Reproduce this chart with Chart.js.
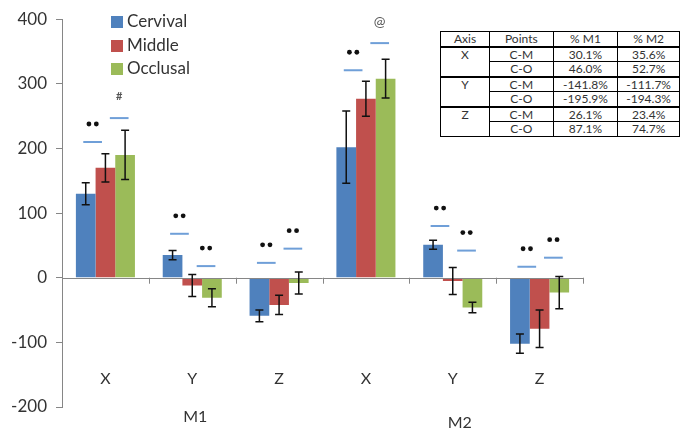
<!DOCTYPE html>
<html>
<head>
<meta charset="utf-8">
<script src="https://cdn.jsdelivr.net/npm/chart.js@4.4.1/dist/chart.umd.min.js"></script>
<style>
    html, body { margin: 0; padding: 0; background: #fff; }
    #wrap { position: relative; width: 680px; height: 431px; overflow: hidden; }
    #chart { position: absolute; left: 0; top: 0; }
    .legend { position: absolute; left: 111px; top: 9px; font: 17px Lato, sans-serif; color: #333; }
    .legend div { height: 23.5px; line-height: 23.5px; white-space: nowrap; }
    .legend span { display: inline-block; width: 12px; height: 12px; margin-right: 4px; vertical-align: -1px; }
    table.stats { position: absolute; left: 440px; top: 31px; border-collapse: collapse;
        font: 12px Lato, sans-serif; color: #333; background: #fff; }
    table.stats td { border: 1px solid #000; height: 13.5px; padding: 0; text-align: center; line-height: 13.5px; }
    table.stats tr.grp td { border-top: 2px solid #000; }
    table.stats td.ax { vertical-align: top; }
</style>
</head>
<body>
<div id="wrap">
    <canvas id="chart" width="680" height="431"></canvas>
    <div class="legend" id="legend"></div>
    <table class="stats" id="stats"></table>
</div>
<script>
// categories and groups
const categories = ['X', 'Y', 'Z', 'X', 'Y', 'Z'];
const groups = ['M1', 'M2'];
const seriesNames = ['Cervival', 'Middle', 'Occlusal'];
const seriesColors = ['#4F81BD', '#C0504D', '#9BBB59'];

// bar values
const cervival = [130, 35, -59, 202, 51, -102];
const middle = [170, -12, -42, 277, -5, -79];
const occlusal = [190, -31, -8, 308, -46, -23];

// error bar half-lengths
const cervivalErr = [17, 7, 9, 56, 7, 15];
const middleErr = [22, 17, 15, 27, 21, 29];
const occlusalErr = [38, 14, 17, 30, 8, 25];

const yTicks = [-200, -100, 0, 100, 200, 300, 400];

// significance marks (dash level + symbol above it)
const cmMarkValue = [210, 68, 23, 321, 80, 17];
const cmMarkText = ['••', '••', '••', '••', '••', '••'];
const coMarkValue = [247, 18, 45, 363, 42, 31];
const coMarkText = ['#', '••', '••', '@', '••', '••'];

// table
const tableHeader = ['Axis', 'Points', '% M1', '% M2'];
const tableAxes = ['X', 'Y', 'Z'];
const tablePoints = ['C-M', 'C-O'];
const tableM1 = ['30.1%', '46.0%', '-141.8%', '-195.9%', '26.1%', '87.1%'];
const tableM2 = ['35.6%', '52.7%', '-111.7%', '-194.3%', '23.4%', '74.7%'];

const colWidths = [50, 65, 65, 62];

function buildTable() {
    const t = document.getElementById('stats');
    let html = '<tr>' + tableHeader.map((h, i) => `<td style="width:${colWidths[i]}px">${h}</td>`).join('') + '</tr>';
    tableAxes.forEach((ax, a) => {
        tablePoints.forEach((p, k) => {
            const r = a * 2 + k;
            html += `<tr class="${k === 0 ? 'grp' : ''}">`;
            if (k === 0) html += `<td class="ax" rowspan="2">${ax}</td>`;
            html += `<td>${p}</td><td>${tableM1[r]}</td><td>${tableM2[r]}</td></tr>`;
        });
    });
    t.innerHTML = html;
}

function buildLegend() {
    const el = document.getElementById('legend');
    el.innerHTML = seriesNames.map((n, i) => `<div><span style="background:${seriesColors[i]}"></span>${n}</div>`).join('');
}

const errors = [cervivalErr, middleErr, occlusalErr];

const extrasPlugin = {
    id: 'extras',
    afterDatasetsDraw(chart) {
        const ctx = chart.ctx;
        const x = chart.scales.x;
        const y = chart.scales.y;
        const area = chart.chartArea;
        const y0 = y.getPixelForValue(0);

        ctx.save();
        // zero axis line and category tick marks
        ctx.strokeStyle = '#868686';
        ctx.lineWidth = 1;
        ctx.beginPath();
        ctx.moveTo(area.left, Math.round(y0) + 0.5);
        ctx.lineTo(area.right, Math.round(y0) + 0.5);
        for (let i = 0; i < categories.length; i++) {
            const bx = Math.round(x.getPixelForValue(i + 0.5)) + 0.5;
            ctx.moveTo(bx, y0);
            ctx.lineTo(bx, y0 + 6);
        }
        ctx.stroke();

        // error bars
        ctx.strokeStyle = '#111';
        ctx.lineWidth = 1.5;
        chart.data.datasets.forEach((ds, d) => {
            const meta = chart.getDatasetMeta(d);
            meta.data.forEach((bar, j) => {
                const v = ds.data[j];
                const e = errors[d][j];
                const top = y.getPixelForValue(v + e);
                const bot = y.getPixelForValue(v - e);
                ctx.beginPath();
                ctx.moveTo(bar.x, top);
                ctx.lineTo(bar.x, bot);
                ctx.moveTo(bar.x - 4, top);
                ctx.lineTo(bar.x + 4, top);
                ctx.moveTo(bar.x - 4, bot);
                ctx.lineTo(bar.x + 4, bot);
                ctx.stroke();
            });
        });

        // significance marks
        const midMeta = chart.getDatasetMeta(1);
        const drawMark = (cx, value, text, w) => {
            const py = y.getPixelForValue(value);
            ctx.strokeStyle = '#6F9FD8';
            ctx.lineWidth = 2;
            ctx.beginPath();
            ctx.moveTo(cx - w / 2, py);
            ctx.lineTo(cx + w / 2, py);
            ctx.stroke();
            const ty = py - 18;
            if (text === '••') {
                ctx.fillStyle = '#111';
                [-3.7, 3.7].forEach(dx => {
                    ctx.beginPath();
                    ctx.arc(cx + dx, ty, 2.4, 0, Math.PI * 2);
                    ctx.fill();
                });
            } else {
                ctx.fillStyle = '#555';
                ctx.font = text === '@' ? '14px Lato, sans-serif' : 'bold 11px Lato, sans-serif';
                ctx.textAlign = 'center';
                ctx.textBaseline = 'middle';
                ctx.fillText(text, cx, ty - 4);
            }
        };
        midMeta.data.forEach((bar, j) => {
            const w = bar.width;
            drawMark(bar.x - 0.65 * w, cmMarkValue[j], cmMarkText[j], w * 0.95);
            drawMark(bar.x + 0.7 * w, coMarkValue[j], coMarkText[j], w * 0.95);
        });

        // category and group labels
        ctx.fillStyle = '#333';
        ctx.textAlign = 'center';
        ctx.textBaseline = 'middle';
        ctx.font = '16px Lato, sans-serif';
        categories.forEach((c, i) => ctx.fillText(c, x.getPixelForValue(i), 379));
        ctx.fillText(groups[0], x.getPixelForValue(1) + 3, 417);
        ctx.fillText(groups[1], x.getPixelForValue(4) + 7, 423);
        ctx.restore();
    }
};

buildTable();
buildLegend();

new Chart(document.getElementById('chart'), {
    type: 'bar',
    data: {
        labels: categories,
        datasets: [cervival, middle, occlusal].map((vals, i) => ({
            label: seriesNames[i],
            data: vals,
            backgroundColor: seriesColors[i],
            borderWidth: 0,
            categoryPercentage: 0.68,
            barPercentage: 1.0,
        }))
    },
    options: {
        responsive: false,
        animation: false,
        events: [],
        layout: { padding: { left: 0, right: 97, top: 19, bottom: 24 } },
        plugins: {
            legend: { display: false },
            tooltip: { enabled: false }
        },
        scales: {
            x: { display: false },
            y: {
                min: yTicks[0],
                max: yTicks[yTicks.length - 1],
                afterFit: (scale) => { scale.width = 62; },
                afterBuildTicks: (scale) => { scale.ticks = yTicks.map(v => ({ value: v })); },
                grid: { drawOnChartArea: false, drawTicks: true, tickLength: 6, color: '#868686' },
                border: { display: true, color: '#868686', width: 1 },
                ticks: { color: '#333', padding: 9, font: { family: 'Lato', size: 17 } }
            }
        }
    },
    plugins: [extrasPlugin]
});
</script>
</body>
</html>
